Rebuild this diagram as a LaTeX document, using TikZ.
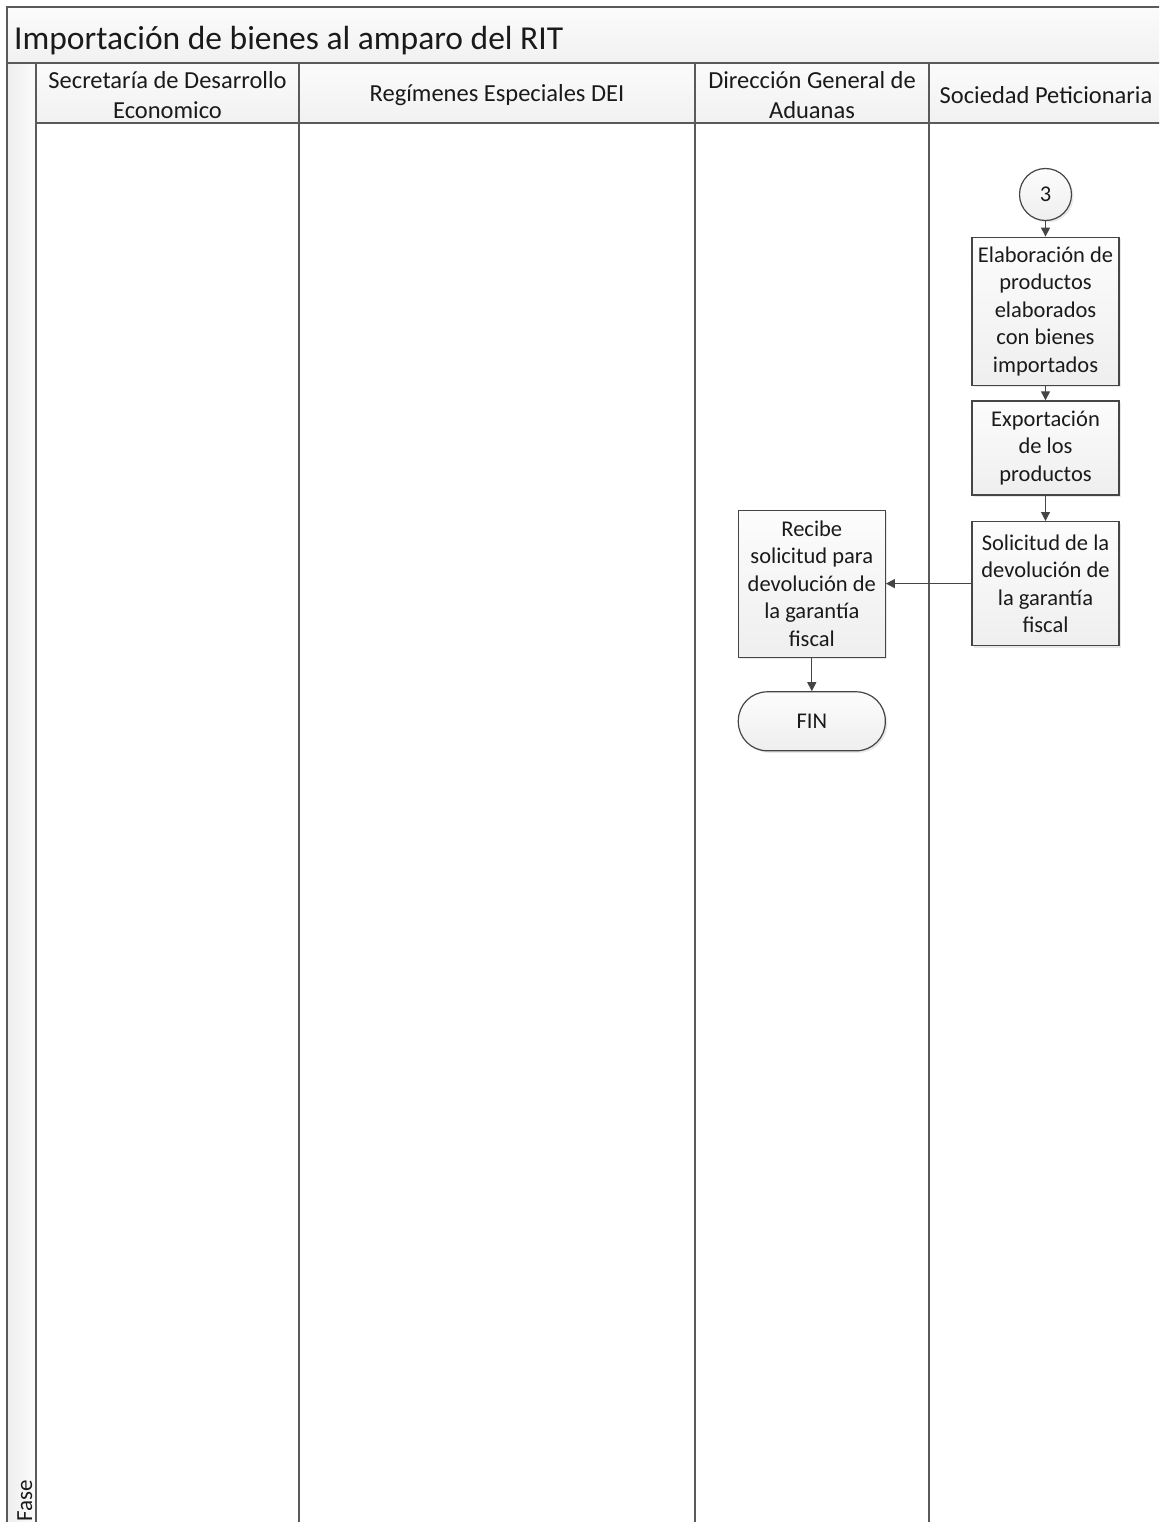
\documentclass[tikz,border=0pt]{standalone}
\usepackage{fontspec}
\setmainfont{Carlito}
\usetikzlibrary{arrows.meta,positioning,shadows}
\definecolor{lnLine}{HTML}{5A5A5A}
\definecolor{lnBox}{HTML}{454545}
\definecolor{lnText}{HTML}{1A1A1A}
\tikzset{
  lane/.style={draw=lnLine, line width=1.7pt},
  pooltitle/.style={font=\fontsize{33.5}{40}\selectfont, text=lnText, inner sep=0pt},
  lanehead/.style={font=\fontsize{24.5}{30}\selectfont, align=center, text=lnText},
  phaselbl/.style={font=\fontsize{23}{28}\selectfont, text=lnText, inner sep=0pt},
  procbox/.style={
    draw=lnBox, line width=1.2pt, top color=gray!2, bottom color=gray!13,
    drop shadow={shadow xshift=2pt, shadow yshift=-2pt, opacity=.18},
    minimum width=147pt, align=center, inner sep=2pt, text=lnText,
    font=\fontsize{22.5}{27.5}\selectfont
  },
  endbox/.style={procbox, rounded corners=29pt, minimum height=59pt},
  linkcirc/.style={procbox, circle, minimum size=52pt},
  flow/.style={-{Triangle[length=9pt, width=9pt]}, draw=lnBox, line width=1.2pt}
}
\begin{document}
\begin{tikzpicture}[x=1pt, y=-1pt]
  \useasboundingbox (0,0) rectangle (1159,1522);
  \clip (0,0) rectangle (1159,1522);
  % pool, phase column and lane headers
  \shade[top color=gray!3, bottom color=gray!11] (7,7) rectangle (1175,63);
  \shade[left color=gray!13, right color=gray!3] (7,63) rectangle (36,1540);
  \foreach \xa/\xb in {36/299, 299/695, 695/929, 929/1175}
    \shade[top color=gray!3, bottom color=gray!11] (\xa,63) rectangle (\xb,123);
  \draw[lane] (7,7) rectangle (1175,1540);
  \draw[lane] (7,63) -- (1175,63);
  \draw[lane] (36,123) -- (1175,123);
  \foreach \xl in {36,299,695,929}
    \draw[lane] (\xl,63) -- (\xl,1540);

  \node[pooltitle, anchor=base west] (title) at (14,49.5) {Importación de bienes al amparo del RIT};
  \node[lanehead] (hsde) at (167.5,95) {Secretaría de Desarrollo\\Economico};
  \node[lanehead] (hdei) at (497,95) {Regímenes Especiales DEI};
  \node[lanehead] (hdga) at (812,95) {Dirección General de\\Aduanas};
  \node[lanehead] (hsoc) at (1046,95) {Sociedad Peticionaria};
  \node[phaselbl, rotate=90, anchor=base west] (fase) at (32,1522) {Fase};

  % flow
  \node[linkcirc] (c3) at (1045.5,194.5) {3};
  \node[procbox, minimum height=148pt, below=15.5pt of c3] (elab) {Elaboración de\\productos\\elaborados\\con bienes\\importados};
  \node[procbox, minimum height=94pt, below=14.5pt of elab] (expo) {Exportación\\de los\\productos};
  \node[procbox, minimum height=124pt, below=25.5pt of expo] (soli) {Solicitud de la\\devolución de\\la garantía\\fiscal};
  \node[procbox, minimum height=147pt, left=85.5pt of soli] (reci) {Recibe\\solicitud para\\devolución de\\la garantía\\fiscal};
  \node[endbox, below=33.5pt of reci] (fin) {FIN};

  \draw[flow] (c3) -- (elab);
  \draw[flow] (elab) -- (expo);
  \draw[flow] (expo) -- (soli);
  \draw[flow] (soli) -- (reci);
  \draw[flow] (reci) -- (fin);
\end{tikzpicture}
\end{document}
